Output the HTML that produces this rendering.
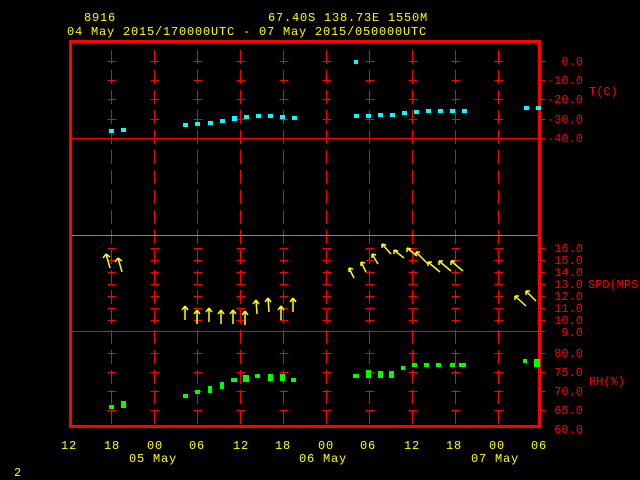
<!DOCTYPE html><html><head><style>body{margin:0;background:#000}svg{display:block}text{font-family:"Liberation Mono",monospace;font-size:12px}.big{letter-spacing:0.8px}.sm{font-size:9.5px}</style></head><body>
<svg width="640" height="480" xmlns="http://www.w3.org/2000/svg" shape-rendering="crispEdges">
<defs><pattern id="dp" x="0" y="50" width="1" height="20" patternUnits="userSpaceOnUse"><rect width="1" height="14" fill="#f00"/></pattern></defs>
<rect width="640" height="480" fill="#000"/>
<g fill="#ff0" class="big">
<text x="84" y="21">8916</text>
<text x="268" y="21">67.40S  138.73E  1550M</text>
<text x="67" y="35">04 May 2015/170000UTC - 07 May 2015/050000UTC</text>
<text x="129" y="462">05 May</text><text x="299" y="462">06 May</text><text x="471" y="462">07 May</text>
<text x="14" y="476">2</text>
<text x="61" y="449">12</text><text x="104" y="449">18</text><text x="147" y="449">00</text><text x="189" y="449">06</text><text x="233" y="449">12</text><text x="275" y="449">18</text><text x="318" y="449">00</text><text x="360" y="449">06</text><text x="404" y="449">12</text><text x="446" y="449">18</text><text x="489" y="449">00</text><text x="531" y="449">06</text>
</g>
<g fill="url(#dp)">
<rect x="111" y="50" width="1" height="375"/><rect x="154" y="50" width="1" height="375"/><rect x="197" y="50" width="1" height="375"/><rect x="240" y="50" width="1" height="375"/><rect x="283" y="50" width="1" height="375"/><rect x="326" y="50" width="1" height="375"/><rect x="369" y="50" width="1" height="375"/><rect x="412" y="50" width="1" height="375"/><rect x="455" y="50" width="1" height="375"/><rect x="498" y="50" width="1" height="375"/>
</g>
<rect x="69" y="138" width="476" height="1" fill="#f00"/><rect x="69" y="331" width="476" height="1" fill="#f00"/>
<rect x="69" y="235" width="471" height="1" fill="#888"/>
<g stroke="#f00" transform="translate(0.5,0.5)">
<path d="M107 61h9M107 80h9M107 99h9M107 119h9M150 61h9M150 80h9M150 99h9M150 119h9M193 61h9M193 80h9M193 99h9M193 119h9M236 61h9M236 80h9M236 99h9M236 119h9M279 61h9M279 80h9M279 99h9M279 119h9M322 61h9M322 80h9M322 99h9M322 119h9M365 61h9M365 80h9M365 99h9M365 119h9M408 61h9M408 80h9M408 99h9M408 119h9M451 61h9M451 80h9M451 99h9M451 119h9M494 61h9M494 80h9M494 99h9M494 119h9M537 61h8M537 80h8M537 99h8M537 119h8"/>
<path d="M107 248h9M107 260h9M107 272h9M107 284h9M107 296h9M107 308h9M107 320h9M150 248h9M150 260h9M150 272h9M150 284h9M150 296h9M150 308h9M150 320h9M193 248h9M193 260h9M193 272h9M193 284h9M193 296h9M193 308h9M193 320h9M236 248h9M236 260h9M236 272h9M236 284h9M236 296h9M236 308h9M236 320h9M279 248h9M279 260h9M279 272h9M279 284h9M279 296h9M279 308h9M279 320h9M322 248h9M322 260h9M322 272h9M322 284h9M322 296h9M322 308h9M322 320h9M365 248h9M365 260h9M365 272h9M365 284h9M365 296h9M365 308h9M365 320h9M408 248h9M408 260h9M408 272h9M408 284h9M408 296h9M408 308h9M408 320h9M451 248h9M451 260h9M451 272h9M451 284h9M451 296h9M451 308h9M451 320h9M494 248h9M494 260h9M494 272h9M494 284h9M494 296h9M494 308h9M494 320h9M537 248h8M537 260h8M537 272h8M537 284h8M537 296h8M537 308h8M537 320h8"/>
<path d="M107 353h9M107 372h9M107 391h9M107 410h9M150 353h9M150 372h9M150 391h9M150 410h9M193 353h9M193 372h9M193 391h9M193 410h9M236 353h9M236 372h9M236 391h9M236 410h9M279 353h9M279 372h9M279 391h9M279 410h9M322 353h9M322 372h9M322 391h9M322 410h9M365 353h9M365 372h9M365 391h9M365 410h9M408 353h9M408 372h9M408 391h9M408 410h9M451 353h9M451 372h9M451 391h9M451 410h9M494 353h9M494 372h9M494 391h9M494 410h9M537 353h8M537 372h8M537 391h8M537 410h8"/>
</g>
<rect x="70.5" y="41.5" width="469" height="385" fill="none" stroke="#f00" stroke-width="3"/>
<g fill="#f00" text-anchor="end" class="sm">
<text x="583" y="65">0.0</text><text x="583" y="84">-10.0</text><text x="583" y="103">-20.0</text><text x="583" y="123">-30.0</text><text x="583" y="142">-40.0</text>
<text x="583" y="252">16.0</text><text x="583" y="264">15.0</text><text x="583" y="276">14.0</text><text x="583" y="288">13.0</text><text x="583" y="300">12.0</text><text x="583" y="312">11.0</text><text x="583" y="324">10.0</text><text x="583" y="336">9.0</text>
<text x="583" y="357">80.0</text><text x="583" y="376">75.0</text><text x="583" y="395">70.0</text><text x="583" y="414">65.0</text><text x="583" y="433">60.0</text>
</g>
<g fill="#f00" class="sm"><text x="589" y="95">T(C)</text><text x="588" y="288">SPD(MPS)</text><text x="589" y="385">RH(%)</text></g>
<g fill="#0ff">
<rect x="109" y="129" width="5" height="4"/><rect x="121" y="128" width="5" height="4"/><rect x="183" y="123" width="5" height="4"/><rect x="195" y="122" width="5" height="4"/><rect x="208" y="121" width="5" height="4"/><rect x="220" y="119" width="5" height="4"/><rect x="232" y="116" width="5" height="5"/><rect x="244" y="115" width="5" height="4"/><rect x="256" y="114" width="5" height="4"/><rect x="268" y="114" width="5" height="4"/><rect x="280" y="115" width="5" height="4"/><rect x="292" y="116" width="5" height="4"/>
<rect x="354" y="60" width="4" height="4"/><rect x="354" y="114" width="5" height="4"/><rect x="366" y="114" width="5" height="4"/><rect x="378" y="113" width="5" height="4"/><rect x="390" y="113" width="5" height="4"/><rect x="402" y="111" width="5" height="4"/><rect x="414" y="110" width="5" height="4"/><rect x="426" y="109" width="5" height="4"/><rect x="438" y="109" width="5" height="4"/><rect x="450" y="109" width="5" height="4"/><rect x="462" y="109" width="5" height="4"/><rect x="524" y="106" width="5" height="4"/><rect x="536" y="106" width="5" height="4"/>
</g>
<g fill="#0f0">
<rect x="109" y="405" width="5" height="4"/><rect x="121" y="401" width="5" height="7"/><rect x="183" y="394" width="5" height="4"/><rect x="195" y="390" width="5" height="4"/><rect x="208" y="386" width="4" height="7"/><rect x="220" y="382" width="4" height="7"/><rect x="231" y="378" width="6" height="4"/><rect x="243" y="375" width="6" height="7"/><rect x="255" y="374" width="5" height="4"/><rect x="268" y="374" width="5" height="7"/><rect x="280" y="374" width="5" height="7"/><rect x="291" y="378" width="5" height="4"/>
<rect x="353" y="374" width="6" height="4"/><rect x="366" y="370" width="5" height="8"/><rect x="378" y="371" width="5" height="7"/><rect x="389" y="371" width="5" height="7"/><rect x="401" y="366" width="4" height="4"/><rect x="412" y="363" width="5" height="4"/><rect x="424" y="363" width="5" height="4"/><rect x="436" y="363" width="5" height="4"/><rect x="450" y="363" width="5" height="4"/><rect x="459" y="363" width="7" height="4"/><rect x="523" y="359" width="4" height="4"/><rect x="534" y="359" width="6" height="8"/>
</g>
<g stroke="#ff0" stroke-width="1.5" fill="none" shape-rendering="auto">
<path d="M110 268l-4-14m0 0l-3 4m3-4l4 3M122 272l-4-14m0 0l-3 4m3-4l4 3"/>
<path d="M185 320v-14m0 0l-3 4m3-4l3 4M197 324v-14m0 0l-3 4m3-4l3 4M209 322v-14m0 0l-3 4m3-4l3 4M221 324v-14m0 0l-3 4m3-4l3 4M233 324v-14m0 0l-3 4m3-4l3 4M245 325v-14m0 0l-3 4m3-4l3 4M257 314l-1-14m0 0l-3 4m3-4l3 4M269 312l-1-14m0 0l-3 4m3-4l3 4M281 320v-14m0 0l-3 4m3-4l3 4M293 312v-14m0 0l-3 4m3-4l3 4"/>
<path d="M354 278l-5-10m0 0v4m0-4l4 1M366 272l-5-10m0 0v4m0-4l4 1M378 264l-6-10m0 0v4m0-4l4 1M391 254l-9-10m0 0v4m0-4l4 1M404 258l-10-8m0 0v4m0-4l4 1M417 256l-10-8m0 0v4m0-4l4 1M428 264l-12-12m0 0v4m0-4l4 0M440 272l-12-10m0 0v4m0-4l4 0M451 271l-12-10m0 0v4m0-4l4 0M463 271l-12-10m0 0v4m0-4l4 0M526 306l-11-10m0 0v4m0-4l4 0M536 301l-10-10m0 0v4m0-4l4 0"/>
</g>
</svg>
</body></html>
